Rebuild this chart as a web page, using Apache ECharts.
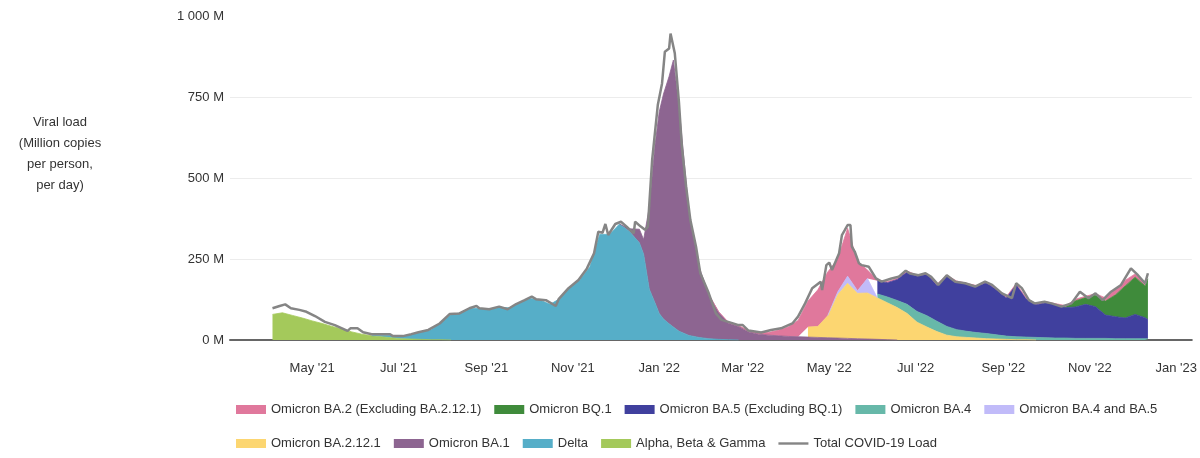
<!DOCTYPE html>
<html><head><meta charset="utf-8">
<script src="https://cdn.jsdelivr.net/npm/echarts@6/dist/echarts.min.js"></script>
<style>html,body{margin:0;padding:0;background:#fff}#c{width:1200px;height:458px}</style>
</head><body><div id="c"></div>
<script>
// sample dates shared by the stacked variant series
const dates = ['2021-04-03','2021-04-10','2021-04-17','2021-04-24','2021-05-01','2021-05-08','2021-05-15','2021-05-22','2021-05-29','2021-06-05',
'2021-06-12','2021-06-19','2021-06-26','2021-07-03','2021-07-10','2021-07-17','2021-07-24','2021-07-31','2021-08-07','2021-08-14',
'2021-08-21','2021-08-28','2021-09-04','2021-09-11','2021-09-18','2021-09-25','2021-10-02','2021-10-09','2021-10-16','2021-10-23',
'2021-10-30','2021-11-06','2021-11-13','2021-11-20','2021-11-27','2021-12-04','2021-12-11','2021-12-18','2021-12-21','2021-12-25',
'2021-12-29','2022-01-01','2022-01-04','2022-01-08','2022-01-11','2022-01-15','2022-01-22','2022-01-29','2022-02-05','2022-02-12',
'2022-02-19','2022-02-26','2022-03-05','2022-03-12','2022-03-19','2022-03-26','2022-04-02','2022-04-09','2022-04-16','2022-04-23',
'2022-04-30','2022-05-07','2022-05-14','2022-05-21','2022-05-28','2022-06-04','2022-06-11','2022-06-18','2022-06-25','2022-07-02',
'2022-07-09','2022-07-16','2022-07-23','2022-07-30','2022-08-06','2022-08-13','2022-08-20','2022-08-27','2022-09-03','2022-09-10',
'2022-09-17','2022-09-24','2022-10-01','2022-10-08','2022-10-15','2022-10-22','2022-10-29','2022-11-05','2022-11-12','2022-11-19',
'2022-11-26','2022-12-03','2022-12-10','2022-12-12'];

// variant series (million copies per person per day): first date + values
const alphaFrom = '2021-04-03';
const alpha = [79,84,76,68,59,51,42,34,25,18,13,10,7,4,3,2,1,1,0];
const deltaFrom = '2021-06-12';
const delta = [0,5,7,8,14,22,31,53,79,84,97,97,94,101,99,117,128,123,110,128,163,186,225,326,326,358,335,300,265,157,115,82,65,50,40,27,14,8,4,2,1,0];
const ba1From = '2021-12-04';
const ba1 = [0,8,42,45,253,485,622,694,764,824,693,381,220,136,84,51,42,25,18,15,13,11,10,9,8,7,6,5,4,3,2,1,0];
const ba2121From = '2022-04-16';
const ba2121 = [31,34,68,134,170,140,142,128,114,100,82,55,40,26,15,10,8,6,4,3,2,1,1,0];
const ba45From = '2022-04-30';
const ba45 = [0,8,22,8,45,0];
const ba4From = '2022-06-04';
const ba4 = [12,18,22,28,33,35,32,27,22,19,17,16,13,10,9,8,8,7,6,6,5,5,5,5,4,4,4,4,4];
const ba5From = '2022-06-04';
const ba5 = [41,44,65,100,109,127,111,155,147,145,142,157,139,118,161,118,101,108,103,94,97,105,98,72,68,64,75,65,59];
const bq1From = '2022-10-08';
const bq1 = [0,2,19,21,35,43,67,99,115,98,126];
const ba2From = '2022-02-05';
const ba2 = [0,1,2,3,4,5,8,17,29,50,80,113,135,102,148,90,26,3,3,3,3,3,3,3,3,3,3,3,3,3,3,3,3,3,3,3,4,5,4,5,10,17,17,10,12];

// Total COVID-19 load line
const totalDates = ['2021-04-03','2021-04-08','2021-04-12','2021-04-16','2021-04-22','2021-04-27','2021-05-03','2021-05-10','2021-05-17','2021-05-26',
'2021-05-28','2021-06-02','2021-06-06','2021-06-12','2021-06-20','2021-06-25','2021-06-27','2021-07-04','2021-07-10','2021-07-15',
'2021-07-22','2021-07-30','2021-08-06','2021-08-13','2021-08-20','2021-08-25','2021-08-27','2021-09-03','2021-09-10','2021-09-16',
'2021-09-22','2021-09-28','2021-10-03','2021-10-06','2021-10-13','2021-10-20','2021-10-22','2021-10-29','2021-11-05','2021-11-11',
'2021-11-16','2021-11-19','2021-11-22','2021-11-24','2021-11-26','2021-12-01','2021-12-05','2021-12-09','2021-12-14','2021-12-15',
'2021-12-19','2021-12-22','2021-12-24','2021-12-27','2021-12-31','2022-01-03','2022-01-05','2022-01-08','2022-01-09','2022-01-10',
'2022-01-12','2022-01-15','2022-01-17','2022-01-20','2022-01-23','2022-01-27','2022-01-30','2022-02-03','2022-02-05','2022-02-10',
'2022-02-14','2022-02-21','2022-02-26','2022-03-01','2022-03-05','2022-03-14','2022-03-21','2022-03-28','2022-04-05','2022-04-09',
'2022-04-14','2022-04-19','2022-04-22','2022-04-25','2022-04-26','2022-04-29','2022-05-01','2022-05-03','2022-05-08','2022-05-10',
'2022-05-12','2022-05-14','2022-05-16','2022-05-17','2022-05-19','2022-05-22','2022-05-24','2022-05-29','2022-06-03','2022-06-07',
'2022-06-14','2022-06-19','2022-06-24','2022-06-27','2022-07-03','2022-07-08','2022-07-12','2022-07-17','2022-07-23','2022-07-29',
'2022-08-05','2022-08-12','2022-08-19','2022-08-24','2022-08-31','2022-09-07','2022-09-10','2022-09-14','2022-09-19','2022-09-23',
'2022-09-30','2022-10-05','2022-10-12','2022-10-19','2022-10-25','2022-10-31','2022-11-05','2022-11-10','2022-11-16','2022-11-23',
'2022-11-30','2022-12-05','2022-12-10','2022-12-12'];
const totalValues = [98,105,110,98,93,87,74,56,46,28,
36,36,24,18,18,18,12,12,18,24,
31,51,80,82,98,105,98,95,103,95,
111,123,134,126,123,105,126,160,185,221,
268,334,331,358,324,358,365,350,329,365,
350,340,350,555,725,792,890,900,946,946,
885,730,597,473,370,288,206,165,144,82,
62,53,46,46,29,23,31,36,51,72,
113,160,170,180,154,231,239,216,268,324,
339,355,355,288,273,237,231,226,190,180,
190,195,214,205,200,206,195,170,200,180,
175,165,180,170,144,129,175,160,123,113,
118,113,103,113,149,129,144,123,149,170,
221,200,175,206];

const tickDates = ['2021-05-01','2021-07-01','2021-09-01','2021-11-01','2022-01-01','2022-03-01','2022-05-01','2022-07-01','2022-09-01','2022-11-01','2023-01-01'];
const tickLabels = ["May '21","Jul '21","Sep '21","Nov '21","Jan '22","Mar '22","May '22","Jul '22","Sep '22","Nov '22","Jan '23"];

const names = {
  ba2:'Omicron BA.2 (Excluding BA.2.12.1)', bq1:'Omicron BQ.1', ba5:'Omicron BA.5 (Excluding BQ.1)', ba4:'Omicron BA.4',
  ba45:'Omicron BA.4 and BA.5', ba2121:'Omicron BA.2.12.1', ba1:'Omicron BA.1', delta:'Delta', alpha:'Alpha, Beta & Gamma',
  total:'Total COVID-19 Load'
};
const colors = {
  ba2:'#e0789c', bq1:'#3f8b3b', ba5:'#40409e', ba4:'#67b8a9', ba45:'#c1bbf9', ba2121:'#fcd671',
  ba1:'#8d6591', delta:'#56aec8', alpha:'#a4c95b', total:'#858585'
};

const ts = s => { const p = s.split('-').map(Number); return Date.UTC(p[0], p[1]-1, p[2]); };
const dateTs = dates.map(ts);
// data items are [value, time] so that the value column is the stacked one
function build(from, vals) {
  const start = dates.indexOf(from);
  return dateTs.map((t, i) => {
    const j = i - start;
    return [(j >= 0 && j < vals.length) ? vals[j] : null, t];
  });
}
const tickTs = tickDates.map(ts);
const FONT = '"Liberation Sans", Arial, Helvetica, sans-serif';

function area(key, from, vals) {
  return {
    name: names[key], type: 'line', stack: 'load', symbol: 'none', showSymbol: false,
    encode: { x: 1, y: 0 },
    data: build(from, vals),
    lineStyle: { width: 0.8, color: colors[key] },
    itemStyle: { color: colors[key] },
    areaStyle: { color: colors[key], opacity: 1 },
    emphasis: { disabled: true }
  };
}

const chart = echarts.init(document.getElementById('c'), null, { renderer: 'canvas' });
const row1 = ['ba2','bq1','ba5','ba4','ba45'];
const row2 = ['ba2121','ba1','delta','alpha','total'];
const legendItem = k => k === 'total'
  ? { name: names[k], icon: 'path://M0 0H30V2.4H0Z' }
  : { name: names[k], icon: 'rect' };
const legendBase = { left: 231, itemWidth: 30, itemHeight: 9, itemGap: 13, selectedMode: false, symbolKeepAspect: true,
  textStyle: { fontSize: 13, color: '#333', fontFamily: FONT } };

chart.setOption({
  animation: false,
  textStyle: { fontFamily: FONT },
  grid: { left: 230, right: 6, top: 16, bottom: 118, containLabel: false },
  graphic: [{
    type: 'text', x: 60, y: 112,
    style: { text: 'Viral load\n(Million copies\nper person,\nper day)', textAlign: 'center',
      fill: '#333', font: '13px ' + FONT, lineHeight: 21 }
  }],
  legend: [
    Object.assign({ top: 398, data: row1.map(legendItem) }, legendBase),
    Object.assign({ top: 432, data: row2.map(legendItem) }, legendBase)
  ],
  xAxis: {
    type: 'value', min: ts('2021-03-04'), max: ts('2023-01-12'),
    axisLine: { onZero: false, lineStyle: { color: '#666', width: 2 } },
    axisTick: { show: false },
    splitLine: { show: false },
    axisLabel: {
      customValues: tickTs, fontSize: 13, color: '#333', margin: 22, fontFamily: FONT,
      formatter: v => { const i = tickTs.findIndex(t => Math.abs(t - v) < 86400000); return i >= 0 ? tickLabels[i] : ''; }
    }
  },
  yAxis: {
    type: 'value', min: 0, max: 1000, interval: 250,
    axisLine: { show: false }, axisTick: { show: false },
    splitLine: { show: true, showMaxLine: false, lineStyle: { color: '#ececec', width: 1 } },
    axisLabel: {
      fontSize: 13, color: '#333', margin: 6, fontFamily: FONT,
      formatter: v => String(v).replace(/\B(?=(\d{3})+(?!\d))/g, ' ') + ' M'
    }
  },
  series: [
    area('alpha', alphaFrom, alpha),
    area('delta', deltaFrom, delta),
    area('ba1', ba1From, ba1),
    area('ba2121', ba2121From, ba2121),
    area('ba45', ba45From, ba45),
    area('ba4', ba4From, ba4),
    area('ba5', ba5From, ba5),
    area('bq1', bq1From, bq1),
    area('ba2', ba2From, ba2),
    {
      name: names.total, type: 'line', symbol: 'none', showSymbol: false, z: 5,
      encode: { x: 1, y: 0 },
      data: totalDates.map((d, i) => [totalValues[i], ts(d)]),
      lineStyle: { color: colors.total, width: 2.5 },
      itemStyle: { color: colors.total },
      emphasis: { disabled: true }
    }
  ]
});
</script>
</body></html>
